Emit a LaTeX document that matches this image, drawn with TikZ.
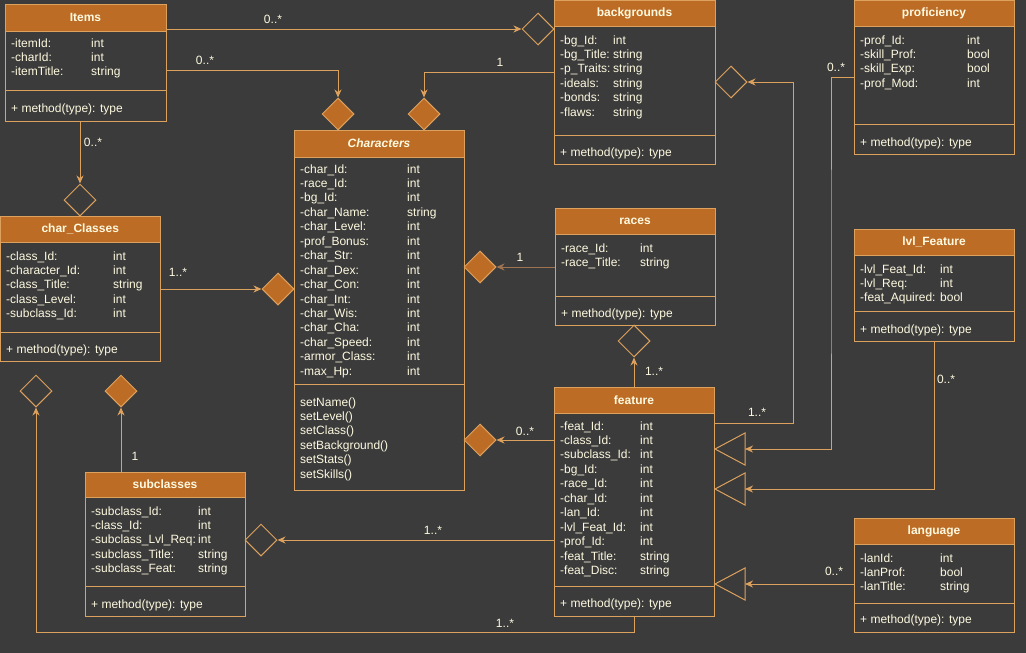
\documentclass[tikz,border=0pt]{standalone}
\usepackage{fontspec}
\setmainfont{Liberation Sans}
\usetikzlibrary{arrows.meta,shapes.geometric,fit}
\definecolor{bgc}{HTML}{3B3B3B}
\definecolor{hdr}{HTML}{BC6C25}
\definecolor{edgec}{HTML}{DDA15E}
\definecolor{txt}{HTML}{FEFAE0}
\definecolor{darkedge}{HTML}{9E7352}
\tikzset{
  classbox/.style={draw=none,inner sep=0pt},
  boxline/.style={draw=edgec,line width=1pt},
  hdrtext/.style={font=\fontsize{12}{14}\selectfont\bfseries,text=txt,inner sep=0pt},
  field/.style={font=\fontsize{12}{14}\selectfont,text=txt,anchor=base west,inner sep=0pt},
  lbl/.style={font=\fontsize{12}{14}\selectfont,text=txt,inner sep=0pt},
  conn/.style={draw=edgec,line width=1pt,-{Stealth[length=8pt,width=7pt,inset=2.5pt]}},
  fdia/.style={diamond,draw=edgec,fill=hdr,line width=1pt,minimum width=32pt,minimum height=32pt,inner sep=0pt},
  odia/.style={diamond,draw=edgec,line width=1pt,minimum width=32pt,minimum height=32pt,inner sep=0pt},
  tri/.style={draw=edgec,line width=1pt}
}
\newcommand\umlclass[8]{%
  \node[classbox,fit={(#2,#3)(#4,#5)}] (#1) {};
  \fill[hdr] (#2,#3) rectangle (#4,#6);
  \draw[boxline] (#2,#3) rectangle (#4,#5);
  \draw[boxline] (#2,#6) -- (#4,#6);
  \draw[boxline] (#2,#7) -- (#4,#7);
  \node[hdrtext] (#1-title) at ({(#2+#4)/2},{(#3+#6)/2}) {#8};
}
\newcommand\attrrows[5]{%
  \foreach \a/\b [count=\i from 0] in {#5} {%
    \node[field] (#1-n\i) at (#2,{#4+4+14.45*\i}) {\a};
    \node[field] (#1-t\i) at (#3,{#4+4+14.45*\i}) {\b};
  }%
}
\newcommand\methrow[4]{\node[field] (#1-m) at (#2,{#3+4}) {#4};}
\begin{document}
\begin{tikzpicture}[x=1pt,y=-1pt]
\fill[bgc] (0,0) rectangle (1026,653);
\useasboundingbox (0,0) rectangle (1026,653);

% ---------- classes ----------
\umlclass{items}{5}{4}{166}{121}{31}{90}{Items}
\attrrows{items}{11}{91}{43}{-itemId:/int,-charId:/int,-itemTitle:/string}
\methrow{items}{11}{108}{+ method(type): type}

\umlclass{bgs}{554}{0.5}{715}{164}{26}{135}{backgrounds}
\attrrows{bgs}{560}{613}{40}{-bg\_Id:/int,-bg\_Title:/string,-p\_Traits:/string,-ideals:/string,-bonds:/string,-flaws:/string}
\methrow{bgs}{560}{152}{+ method(type): type}

\umlclass{chars}{294}{130}{464}{490}{157}{384}{\itshape Characters}
\attrrows{chars}{300}{407}{169}{-char\_Id:/int,-race\_Id:/int,-bg\_Id:/int,-char\_Name:/string,-char\_Level:/int,-prof\_Bonus:/int,-char\_Str:/int,-char\_Dex:/int,-char\_Con:/int,-char\_Int:/int,-char\_Wis:/int,-char\_Cha:/int,-char\_Speed:/int,-armor\_Class:/int,-max\_Hp:/int}
\foreach \m [count=\i from 0] in {setName(),setLevel(),setClass(),setBackground(),setStats(),setSkills()}
  \node[field] (chars-m\i) at (300,{402+4+14.45*\i}) {\m};

\umlclass{classes}{0.5}{216}{160}{361}{242}{332}{char\_Classes}
\attrrows{classes}{6}{113}{256}{-class\_Id:/int,-character\_Id:/int,-class\_Title:/string,-class\_Level:/int,-subclass\_Id:/int}
\methrow{classes}{6}{349}{+ method(type): type}

\umlclass{races}{555}{208}{715}{325}{234}{296}{races}
\attrrows{races}{561}{640}{248}{-race\_Id:/int,-race\_Title:/string}
\methrow{races}{561}{313}{+ method(type): type}

\umlclass{prof}{854}{0.5}{1014}{154}{26}{124}{proficiency}
\attrrows{prof}{860}{967}{40}{-prof\_Id:/int,-skill\_Prof:/bool,-skill\_Exp:/bool,-prof\_Mod:/int}
\methrow{prof}{860}{142}{+ method(type): type}

\umlclass{lvl}{854}{229}{1014}{341}{255}{311}{lvl\_Feature}
\attrrows{lvl}{860}{940}{269}{-lvl\_Feat\_Id:/int,-lvl\_Req:/int,-feat\_Aquired:/bool}
\methrow{lvl}{860}{329}{+ method(type): type}

\umlclass{subs}{85}{472}{245}{616}{497}{586}{subclasses}
\attrrows{subs}{91}{198}{511}{-subclass\_Id:/int,-class\_Id:/int,-subclass\_Lvl\_Req:/int,-subclass\_Title:/string,-subclass\_Feat:/string}
\methrow{subs}{91}{604}{+ method(type): type}

\umlclass{feature}{554}{387}{714}{616}{413}{586}{feature}
\attrrows{feature}{560}{640}{426}{-feat\_Id:/int,-class\_Id:/int,-subclass\_Id:/int,-bg\_Id:/int,-race\_Id:/int,-char\_Id:/int,-lan\_Id:/int,-lvl\_Feat\_Id:/int,-prof\_Id:/int,-feat\_Title:/string,-feat\_Disc:/string}
\methrow{feature}{560}{603}{+ method(type): type}

\umlclass{lang}{854}{518}{1014}{632}{544}{603}{language}
\attrrows{lang}{860}{940}{558}{-lanId:/int,-lanProf:/bool,-lanTitle:/string}
\methrow{lang}{860}{619}{+ method(type): type}

% ---------- diamonds ----------
\node[odia] (dbg) at (538,29) {};
\node[fdia] (dch1) at (338,114) {};
\node[fdia] (dch2) at (424,114) {};
\node[odia] (dcc) at (80,200) {};
\node[fdia] (dch3) at (278,289) {};
\node[fdia] (dch4) at (480,267) {};
\node[odia] (draces) at (634,341) {};
\node[fdia] (dch5) at (480,440) {};
\node[odia] (dbg2) at (731,82) {};
\node[odia] (dsub) at (261,540) {};
\node[fdia] (dcc2) at (121,391) {};
\node[odia] (dcc3) at (36,391) {};

% ---------- triangles ----------
\coordinate (tri1) at (745,449);
\coordinate (tri2) at (745,489);
\coordinate (tri3) at (745,584);
\foreach \t in {tri1,tri2,tri3}
  \draw[tri] ([yshift=-16pt]\t) -- ([xshift=-30pt]\t) -- ([yshift=16pt]\t) -- cycle;

% ---------- connector points ----------
\coordinate (p2) at (166,70);
\coordinate (p3) at (554,72);
\coordinate (p9) at (714,423);
\coordinate (k9) at (793,423);
\coordinate (p10) at (854,77);
\coordinate (k10) at (831,260);
\coordinate (k15) at (36,632);

% ---------- connectors ----------
\draw[conn] (items.east |- dbg) -- (dbg.west);
\node[lbl] at (273,19) {0..*};
\draw[conn] (p2) -| (dch1.north);
\node[lbl] at (205,60) {0..*};
\draw[conn] (p3) -| (dch2.north);
\node[lbl] at (500,62) {1};
\draw[conn] (dcc.north |- items.south) -- (dcc.north);
\node[lbl] at (93,142) {0..*};
\draw[conn] (classes.east |- dch3) -- (dch3.west);
\node[lbl] at (178,272) {1..*};
\draw[conn,draw=darkedge] (races.west |- dch4) -- (dch4.east);
\node[lbl] at (520,257) {1};
\draw[conn] (feature.north) -- (draces.south);
\node[lbl] at (654,371) {1..*};
\draw[conn] (feature.west |- dch5) -- (dch5.east);
\node[lbl] at (525,431) {0..*};
\draw[conn] (p9) -- (k9) |- (dbg2.east);
\node[lbl] at (757,412) {1..*};
\draw[conn] (p10) -| (k10) |- (tri1);
\node[lbl] at (836,67) {0..*};
\draw[conn] (lvl.south) |- (tri2);
\node[lbl] at (946,379) {0..*};
\draw[conn] (lang.west |- tri3) -- (tri3);
\node[lbl] at (834,571) {0..*};
\draw[conn] (feature.west |- dsub) -- (dsub.east);
\node[lbl] at (433,530) {1..*};
\draw[conn] (subs.north -| dcc2) -- (dcc2.south);
\node[lbl] at (135,456) {1};
\draw[conn] (feature.south) |- (k15) -- (dcc3.south);
\node[lbl] at (505,623) {1..*};
\end{tikzpicture}
\end{document}
